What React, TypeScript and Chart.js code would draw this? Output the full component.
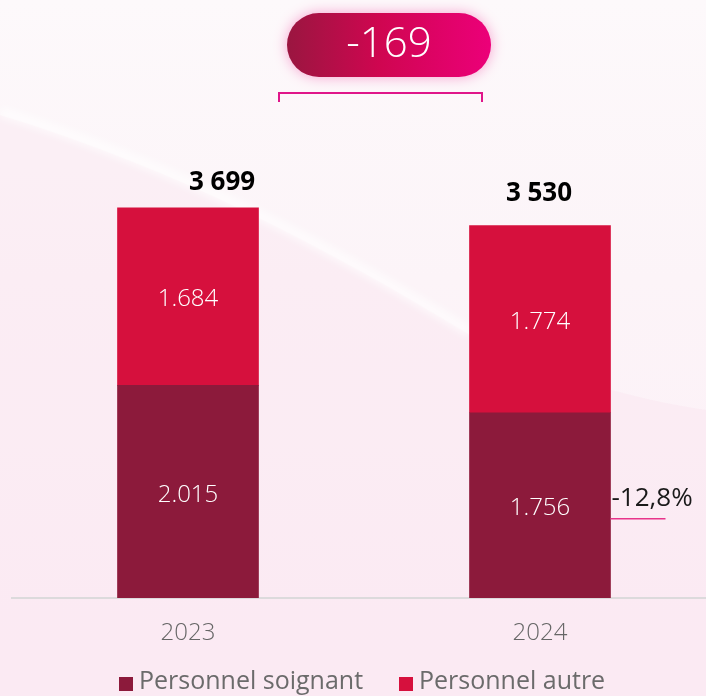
import React, { useEffect, useRef } from "react";
import { Chart, registerables } from "chart.js";

Chart.register(...registerables);

const categories = ["2023", "2024"];
const soignant = [2015, 1756];
const autre = [1684, 1774];
const seriesNames = ["Personnel soignant", "Personnel autre"];
const changeLabel = "-12,8%";

const COLOR_SOIGNANT = "#8C1A3B";
const COLOR_AUTRE = "#D6103D";
const FONT = "'Open Sans', 'Noto Sans', sans-serif";

const fmtDot = (v: number) => {
  const s = String(Math.round(v));
  return s.length > 3 ? s.slice(0, s.length - 3) + "." + s.slice(-3) : s;
};
const fmtSpace = (v: number) => {
  const s = String(Math.round(v));
  return s.length > 3 ? s.slice(0, s.length - 3) + " " + s.slice(-3) : s;
};

const bgPlugin = {
  id: "bg",
  beforeDraw(chart: any) {
    const { ctx, width, height } = chart;
    ctx.save();
    const g = ctx.createLinearGradient(0, 0, 0, height);
    g.addColorStop(0, "#FDF9FB");
    g.addColorStop(0.4, "#FCF4F8");
    g.addColorStop(1, "#FDEFF7");
    ctx.fillStyle = g;
    ctx.fillRect(0, 0, width, height);
    // pinker lower-left region
    ctx.beginPath();
    ctx.moveTo(0, 115);
    ctx.bezierCurveTo(180, 170, 330, 250, 470, 335);
    ctx.bezierCurveTo(560, 380, 640, 400, 706, 410);
    ctx.lineTo(706, height);
    ctx.lineTo(0, height);
    ctx.closePath();
    ctx.fillStyle = "rgba(250,222,236,0.3)";
    ctx.fill();
    // light streak
    ctx.beginPath();
    ctx.moveTo(0, 112);
    ctx.bezierCurveTo(180, 167, 330, 247, 470, 332);
    ctx.strokeStyle = "rgba(255,255,255,0.7)";
    ctx.lineWidth = 10;
    ctx.filter = "blur(4px)";
    ctx.stroke();
    ctx.restore();
  },
};

const annotPlugin = {
  id: "annot",
  afterDatasetsDraw(chart: any) {
    const { ctx } = chart;
    const m0 = chart.getDatasetMeta(0);
    const m1 = chart.getDatasetMeta(1);
    ctx.save();
    // values inside bars
    ctx.textAlign = "center";
    ctx.textBaseline = "middle";
    ctx.fillStyle = "#FFFFFF";
    ctx.font = `300 24px ${FONT}`;
    [m0, m1].forEach((meta: any, di: number) => {
      const vals = di === 0 ? soignant : autre;
      meta.data.forEach((bar: any, i: number) => {
        const cy = (bar.y + bar.base) / 2;
        ctx.fillText(fmtDot(vals[i]), bar.x, cy + 3);
      });
    });
    // totals
    const totalOffsets = [
      [34, -25],
      [-1, -32],
    ];
    ctx.fillStyle = "#000000";
    ctx.font = `bold 26px ${FONT}`;
    m1.data.forEach((bar: any, i: number) => {
      const total = soignant[i] + autre[i];
      ctx.fillText(fmtSpace(total), bar.x + totalOffsets[i][0], bar.y + totalOffsets[i][1]);
    });
    // change annotation on the last bar
    const last = m0.data[m0.data.length - 1];
    const rx = last.x + last.width / 2;
    const midY = (last.y + last.base) / 2;
    ctx.textAlign = "left";
    ctx.font = `400 26px ${FONT}`;
    ctx.fillStyle = "#1a1a1a";
    ctx.fillText(changeLabel, rx + 1, midY - 7);
    ctx.beginPath();
    ctx.moveTo(rx, midY + 13.5);
    ctx.lineTo(rx + 55, midY + 13.5);
    ctx.strokeStyle = "#E8338A";
    ctx.lineWidth = 1.5;
    ctx.stroke();

    // pill with difference
    const diff = soignant[1] + autre[1] - (soignant[0] + autre[0]);
    const px = 287, py = 13, pw = 204, ph = 64, r = 32;
    ctx.save();
    ctx.shadowColor = "rgba(240,90,170,0.55)";
    ctx.shadowBlur = 14;
    const pg = ctx.createLinearGradient(px, 0, px + pw, 0);
    pg.addColorStop(0, "#9A1640");
    pg.addColorStop(0.45, "#CF0650");
    pg.addColorStop(1, "#EC0079");
    ctx.fillStyle = pg;
    ctx.beginPath();
    ctx.roundRect(px, py, pw, ph, r);
    ctx.fill();
    ctx.restore();
    ctx.fillStyle = "#FFFFFF";
    ctx.textAlign = "center";
    ctx.font = `300 42px ${FONT}`;
    ctx.fillText(String(diff), px + pw / 2, py + ph / 2);
    // bracket
    ctx.beginPath();
    ctx.moveTo(279, 102);
    ctx.lineTo(279, 93);
    ctx.lineTo(482, 93);
    ctx.lineTo(482, 102);
    ctx.strokeStyle = "#E0168A";
    ctx.lineWidth = 2;
    ctx.stroke();

    // legend
    const legendX = [119, 399];
    const legendColors = [COLOR_SOIGNANT, COLOR_AUTRE];
    ctx.textAlign = "left";
    ctx.font = `400 25px ${FONT}`;
    seriesNames.forEach((n, i) => {
      ctx.fillStyle = legendColors[i];
      ctx.fillRect(legendX[i], 677, 14, 14);
      ctx.fillStyle = "#6b6b6b";
      ctx.fillText(n, legendX[i] + 20, 682);
    });
    ctx.restore();
  },
};

export default function App() {
  const ref = useRef<HTMLCanvasElement | null>(null);
  useEffect(() => {
    document.body.style.margin = "0";
    const chart = new Chart(ref.current!, {
      type: "bar",
      data: {
        datasets: [
          {
            label: seriesNames[0],
            data: soignant.map((v, i) => ({ x: i, y: v })),
            backgroundColor: COLOR_SOIGNANT,
            barThickness: 141,
          },
          {
            label: seriesNames[1],
            data: autre.map((v, i) => ({ x: i, y: v })),
            backgroundColor: COLOR_AUTRE,
            barThickness: 141,
          },
        ],
      },
      plugins: [bgPlugin, annotPlugin],
      options: {
        animation: false,
        responsive: false,
        maintainAspectRatio: false,
        layout: { padding: { top: 176, left: 12, right: 0, bottom: 0 } },
        plugins: { legend: { display: false }, tooltip: { enabled: false } },
        scales: {
          x: {
            type: "linear",
            stacked: true,
            offset: false,
            min: -0.5,
            max: 1.4716,
            afterBuildTicks: (s: any) => {
              s.ticks = categories.map((_, i) => ({ value: i }));
            },
            afterFit: (s: any) => {
              s.height = 98;
            },
            grid: { display: false, drawTicks: false },
            border: { display: true, color: "#DCDADC", width: 2 },
            ticks: {
              padding: 21,
              color: "#666666",
              font: { family: FONT, size: 24, weight: 300 },
              callback: (v: any) => categories[v] ?? "",
            },
          },
          y: {
            stacked: true,
            display: false,
            min: 0,
            max: 4000,
          },
        },
      },
    } as any);
    return () => chart.destroy();
  }, []);
  return (
    <div style={{ position: "fixed", left: 0, top: 0, width: 706, height: 696 }}>
      <canvas ref={ref} width={706} height={696} style={{ display: "block" }} />
    </div>
  );
}
